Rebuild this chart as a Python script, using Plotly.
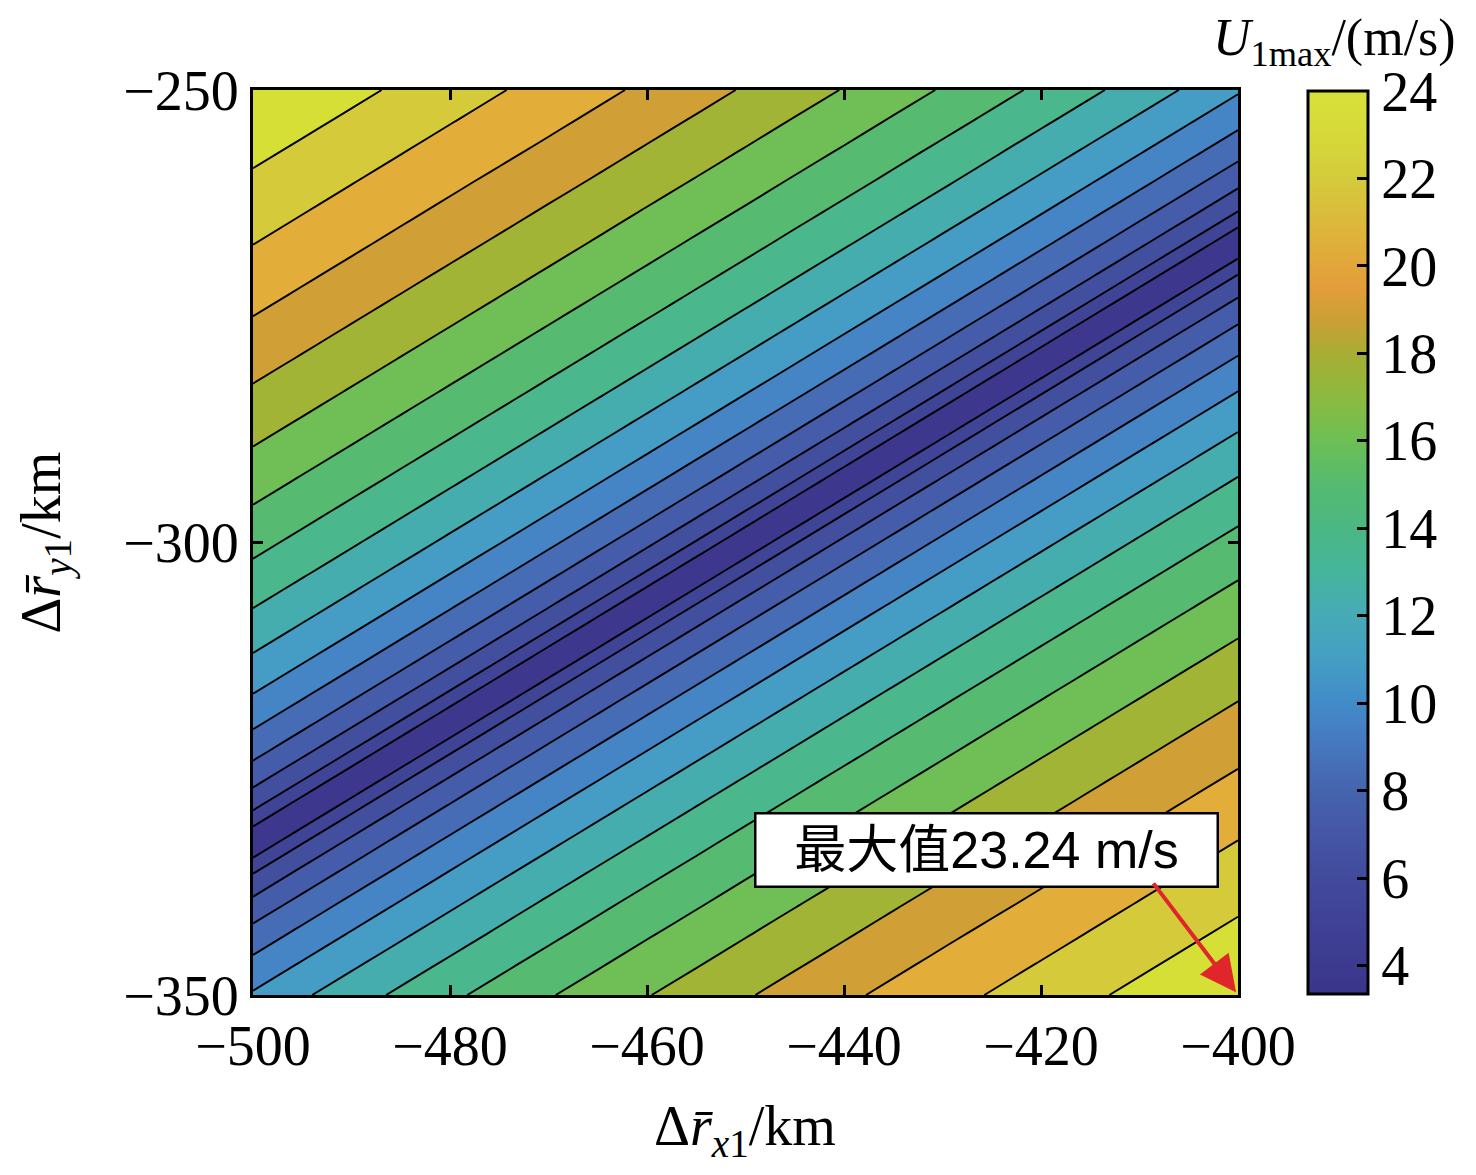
import plotly.graph_objects as go

# sampling grid (km); the rows follow the trough of the field so it stays continuous
X_KM = [-500, -495, -490, -485, -480, -475, -470, -465, -460, -455, -450,
        -445, -440, -435, -430, -425, -420, -415, -410, -405, -400]
Y_KM = [-350, -346.62, -343.24, -339.86, -336.48,
        -333.1, -329.79, -326.48, -323.17, -319.86, -316.55, -313.24, -309.93,
        -306.62, -303.31, -300.0, -296.69, -293.38, -290.07, -286.76, -283.45,
        -280.14, -276.83, -273.52, -270.21, -266.9,
        -263.52, -260.14, -256.76, -253.38, -250]

# U1max (m/s), one row per Y_KM value, one column per X_KM value
U1MAX = [
    [11.22, 12.19, 13.08, 13.92, 14.71, 15.45, 16.17, 16.85, 17.51, 18.14, 18.75, 19.35, 19.92, 20.48, 21.02, 21.55, 22.07, 22.58, 23.07, 23.56, 24.03],
    [10.14, 11.20, 12.17, 13.06, 13.90, 14.69, 15.44, 16.15, 16.84, 17.49, 18.13, 18.74, 19.33, 19.91, 20.47, 21.01, 21.54, 22.06, 22.57, 23.06, 23.55],
    [8.94, 10.12, 11.18, 12.15, 13.04, 13.88, 14.67, 15.42, 16.14, 16.82, 17.48, 18.12, 18.73, 19.32, 19.90, 20.46, 21.00, 21.53, 22.05, 22.56, 23.05],
    [7.54, 8.91, 10.10, 11.16, 12.13, 13.03, 13.87, 14.66, 15.41, 16.12, 16.81, 17.47, 18.10, 18.72, 19.31, 19.88, 20.44, 20.99, 21.52, 22.04, 22.55],
    [5.81, 7.51, 8.88, 10.07, 11.14, 12.11, 13.01, 13.85, 14.64, 15.39, 16.11, 16.79, 17.45, 18.09, 18.70, 19.30, 19.87, 20.43, 20.98, 21.51, 22.03],
    [3.27, 5.77, 7.47, 8.86, 10.05, 11.12, 12.09, 12.99, 13.83, 14.62, 15.38, 16.09, 16.78, 17.44, 18.08, 18.69, 19.28, 19.86, 20.42, 20.97, 21.50],
    [5.77, 3.27, 5.77, 7.47, 8.86, 10.05, 11.12, 12.09, 12.99, 13.83, 14.62, 15.38, 16.09, 16.78, 17.44, 18.08, 18.69, 19.28, 19.86, 20.42, 20.97],
    [7.47, 5.77, 3.27, 5.77, 7.47, 8.86, 10.05, 11.12, 12.09, 12.99, 13.83, 14.62, 15.38, 16.09, 16.78, 17.44, 18.08, 18.69, 19.28, 19.86, 20.42],
    [8.86, 7.47, 5.77, 3.27, 5.77, 7.47, 8.86, 10.05, 11.12, 12.09, 12.99, 13.83, 14.62, 15.38, 16.09, 16.78, 17.44, 18.08, 18.69, 19.28, 19.86],
    [10.05, 8.86, 7.47, 5.77, 3.27, 5.77, 7.47, 8.86, 10.05, 11.12, 12.09, 12.99, 13.83, 14.62, 15.38, 16.09, 16.78, 17.44, 18.08, 18.69, 19.28],
    [11.12, 10.05, 8.86, 7.47, 5.77, 3.27, 5.77, 7.47, 8.86, 10.05, 11.12, 12.09, 12.99, 13.83, 14.62, 15.38, 16.09, 16.78, 17.44, 18.08, 18.69],
    [12.09, 11.12, 10.05, 8.86, 7.47, 5.77, 3.27, 5.77, 7.47, 8.86, 10.05, 11.12, 12.09, 12.99, 13.83, 14.62, 15.38, 16.09, 16.78, 17.44, 18.08],
    [12.99, 12.09, 11.12, 10.05, 8.86, 7.47, 5.77, 3.27, 5.77, 7.47, 8.86, 10.05, 11.12, 12.09, 12.99, 13.83, 14.62, 15.38, 16.09, 16.78, 17.44],
    [13.83, 12.99, 12.09, 11.12, 10.05, 8.86, 7.47, 5.77, 3.27, 5.77, 7.47, 8.86, 10.05, 11.12, 12.09, 12.99, 13.83, 14.62, 15.38, 16.09, 16.78],
    [14.62, 13.83, 12.99, 12.09, 11.12, 10.05, 8.86, 7.47, 5.77, 3.27, 5.77, 7.47, 8.86, 10.05, 11.12, 12.09, 12.99, 13.83, 14.62, 15.38, 16.09],
    [15.38, 14.62, 13.83, 12.99, 12.09, 11.12, 10.05, 8.86, 7.47, 5.77, 3.27, 5.77, 7.47, 8.86, 10.05, 11.12, 12.09, 12.99, 13.83, 14.62, 15.38],
    [16.09, 15.38, 14.62, 13.83, 12.99, 12.09, 11.12, 10.05, 8.86, 7.47, 5.77, 3.27, 5.77, 7.47, 8.86, 10.05, 11.12, 12.09, 12.99, 13.83, 14.62],
    [16.78, 16.09, 15.38, 14.62, 13.83, 12.99, 12.09, 11.12, 10.05, 8.86, 7.47, 5.77, 3.27, 5.77, 7.47, 8.86, 10.05, 11.12, 12.09, 12.99, 13.83],
    [17.44, 16.78, 16.09, 15.38, 14.62, 13.83, 12.99, 12.09, 11.12, 10.05, 8.86, 7.47, 5.77, 3.27, 5.77, 7.47, 8.86, 10.05, 11.12, 12.09, 12.99],
    [18.08, 17.44, 16.78, 16.09, 15.38, 14.62, 13.83, 12.99, 12.09, 11.12, 10.05, 8.86, 7.47, 5.77, 3.27, 5.77, 7.47, 8.86, 10.05, 11.12, 12.09],
    [18.69, 18.08, 17.44, 16.78, 16.09, 15.38, 14.62, 13.83, 12.99, 12.09, 11.12, 10.05, 8.86, 7.47, 5.77, 3.27, 5.77, 7.47, 8.86, 10.05, 11.12],
    [19.28, 18.69, 18.08, 17.44, 16.78, 16.09, 15.38, 14.62, 13.83, 12.99, 12.09, 11.12, 10.05, 8.86, 7.47, 5.77, 3.27, 5.77, 7.47, 8.86, 10.05],
    [19.86, 19.28, 18.69, 18.08, 17.44, 16.78, 16.09, 15.38, 14.62, 13.83, 12.99, 12.09, 11.12, 10.05, 8.86, 7.47, 5.77, 3.27, 5.77, 7.47, 8.86],
    [20.42, 19.86, 19.28, 18.69, 18.08, 17.44, 16.78, 16.09, 15.38, 14.62, 13.83, 12.99, 12.09, 11.12, 10.05, 8.86, 7.47, 5.77, 3.27, 5.77, 7.47],
    [20.97, 20.42, 19.86, 19.28, 18.69, 18.08, 17.44, 16.78, 16.09, 15.38, 14.62, 13.83, 12.99, 12.09, 11.12, 10.05, 8.86, 7.47, 5.77, 3.27, 5.77],
    [21.50, 20.97, 20.42, 19.86, 19.28, 18.69, 18.08, 17.44, 16.78, 16.09, 15.38, 14.62, 13.83, 12.99, 12.09, 11.12, 10.05, 8.86, 7.47, 5.77, 3.27],
    [22.03, 21.51, 20.98, 20.43, 19.87, 19.30, 18.70, 18.09, 17.45, 16.79, 16.11, 15.39, 14.64, 13.85, 13.01, 12.11, 11.14, 10.07, 8.88, 7.51, 5.81],
    [22.55, 22.04, 21.52, 20.99, 20.44, 19.88, 19.31, 18.72, 18.10, 17.47, 16.81, 16.12, 15.41, 14.66, 13.87, 13.03, 12.13, 11.16, 10.10, 8.91, 7.54],
    [23.05, 22.56, 22.05, 21.53, 21.00, 20.46, 19.90, 19.32, 18.73, 18.12, 17.48, 16.82, 16.14, 15.42, 14.67, 13.88, 13.04, 12.15, 11.18, 10.12, 8.94],
    [23.55, 23.06, 22.57, 22.06, 21.54, 21.01, 20.47, 19.91, 19.33, 18.74, 18.13, 17.49, 16.84, 16.15, 15.44, 14.69, 13.90, 13.06, 12.17, 11.20, 10.14],
    [24.03, 23.56, 23.07, 22.58, 22.07, 21.55, 21.02, 20.48, 19.92, 19.35, 18.75, 18.14, 17.51, 16.85, 16.17, 15.45, 14.71, 13.92, 13.08, 12.19, 11.22],
]

LEVEL_START = 4.57
LEVEL_STEP = 1.3
LEVEL_END = 22.8

# fill colour of each band, lowest band first
BAND_COLORS = ["#3d388d", "#3f4497", "#424f9f", "#445ca9", "#456cb5", "#4585c6",
               "#459dc5", "#46adae", "#4ab78d", "#56bb71", "#6fbf56", "#a2b435",
               "#d0a036", "#e2ad38", "#d5cb3a", "#d6df36"]

# colour bar
CBAR_VALUES = [3.35, 4, 5, 6, 7, 8, 9, 10, 11, 12, 13, 14, 15, 16, 17, 18, 18.7,
               19.5, 20, 21, 22, 23, 24]
CBAR_COLORS = ["#3b358c", "#3c3a8f", "#3f4297", "#424a9c", "#4556a6", "#4564ae",
               "#4677be", "#428bc9", "#449ec4", "#47aab7", "#45b59c", "#4bb784",
               "#55bb70", "#6dbf55", "#8cba40", "#a8ad33", "#c9a035", "#e39d3a",
               "#e2a63a", "#dcb83b", "#d4cb3c", "#d6d93a", "#d8e03a"]
CBAR_TICKS = [4, 6, 8, 10, 12, 14, 16, 18, 20, 22, 24]

X_TICKS = [-500, -480, -460, -440, -420, -400]
Y_TICKS = [-350, -300, -250]

MAX_TEXT = "最大值23.24 m/s"

SERIF = "Liberation Serif, Times New Roman, serif"
FS = 56

cmin, cmax = CBAR_VALUES[0], CBAR_VALUES[-1]
cbar_scale = [[(v - cmin) / (cmax - cmin), c] for v, c in zip(CBAR_VALUES, CBAR_COLORS)]
nb = len(BAND_COLORS) - 1
band_scale = [[k / nb, c] for k, c in enumerate(BAND_COLORS)]

fig = go.Figure()

# heatmap only gives the continuous colour bar, it sits under the contour fill
fig.add_trace(go.Heatmap(
    x=X_KM, y=Y_KM, z=U1MAX, zmin=cmin, zmax=cmax, colorscale=cbar_scale,
    hoverinfo="skip", showscale=True,
    colorbar=dict(
        x=1.071, xanchor="left", y=0.5, yanchor="middle",
        len=0.998, lenmode="fraction", thickness=60, thicknessmode="pixels",
        xpad=0, ypad=0, outlinewidth=3, outlinecolor="black",
        tickmode="array", tickvals=CBAR_TICKS, ticks="inside", ticklen=12,
        tickwidth=3, tickcolor="black",
        tickfont=dict(family=SERIF, size=FS, color="black"),
    ),
))

fig.add_trace(go.Contour(
    x=X_KM, y=Y_KM, z=U1MAX,
    contours=dict(start=LEVEL_START, end=LEVEL_END, size=LEVEL_STEP, coloring="fill"),
    colorscale=band_scale, showscale=False,
    line=dict(color="black", width=1.9, smoothing=1),
))

axis_common = dict(
    showline=True, linewidth=3, linecolor="black", mirror="ticks",
    ticks="inside", ticklen=10, tickwidth=3, tickcolor="black",
    showgrid=False, zeroline=False,
    tickfont=dict(family=SERIF, size=FS, color="black"),
)
fig.update_xaxes(range=[-500, -400], tickmode="array", tickvals=X_TICKS, **axis_common)
fig.update_yaxes(range=[-350, -250], tickmode="array", tickvals=Y_TICKS, **axis_common)

fig.add_annotation(
    x=-425.5, y=-334.0, xref="x", yref="y", text=MAX_TEXT, showarrow=False,
    xanchor="center", yanchor="middle",
    font=dict(family="Liberation Sans, Noto Sans CJK SC", size=52, color="black"),
    bgcolor="white", bordercolor="black", borderwidth=2.5, borderpad=0,
    width=460, height=71,
)
fig.add_annotation(
    x=-400.2, y=-349.7, ax=-408.7, ay=-337.5, xref="x", yref="y",
    axref="x", ayref="y", text="", showarrow=True,
    arrowcolor="#e0262a", arrowwidth=4, arrowhead=2, arrowsize=1.8,
)

fig.add_annotation(
    xref="paper", yref="paper", x=0.4995, y=-0.149, showarrow=False,
    xanchor="center", yanchor="middle",
    text="Δ<i>r\u0304</i><sub><i>x</i>1</sub>/km",
    font=dict(family=SERIF, size=FS, color="black"),
)
fig.add_annotation(
    xref="paper", yref="paper", x=-0.211, y=0.5, showarrow=False, textangle=-90,
    xanchor="center", yanchor="middle",
    text="Δ<i>r\u0304</i><sub><i>y</i>1</sub>/km",
    font=dict(family=SERIF, size=FS, color="black"),
)
fig.add_annotation(
    xref="paper", yref="paper", x=1.098, y=1.054, showarrow=False,
    xanchor="center", yanchor="middle",
    text="<i>U</i><sub>1max</sub>/(m/s)",
    font=dict(family=SERIF, size=52, color="black"),
)

# the page adds an 8 px body margin, so the figure is 16 px smaller each way
fig.update_layout(
    width=1460, height=1159,
    margin=dict(l=245, r=230, t=82, b=172),
    paper_bgcolor="white", plot_bgcolor="white",
    showlegend=False,
)

fig.write_html("out.html")
